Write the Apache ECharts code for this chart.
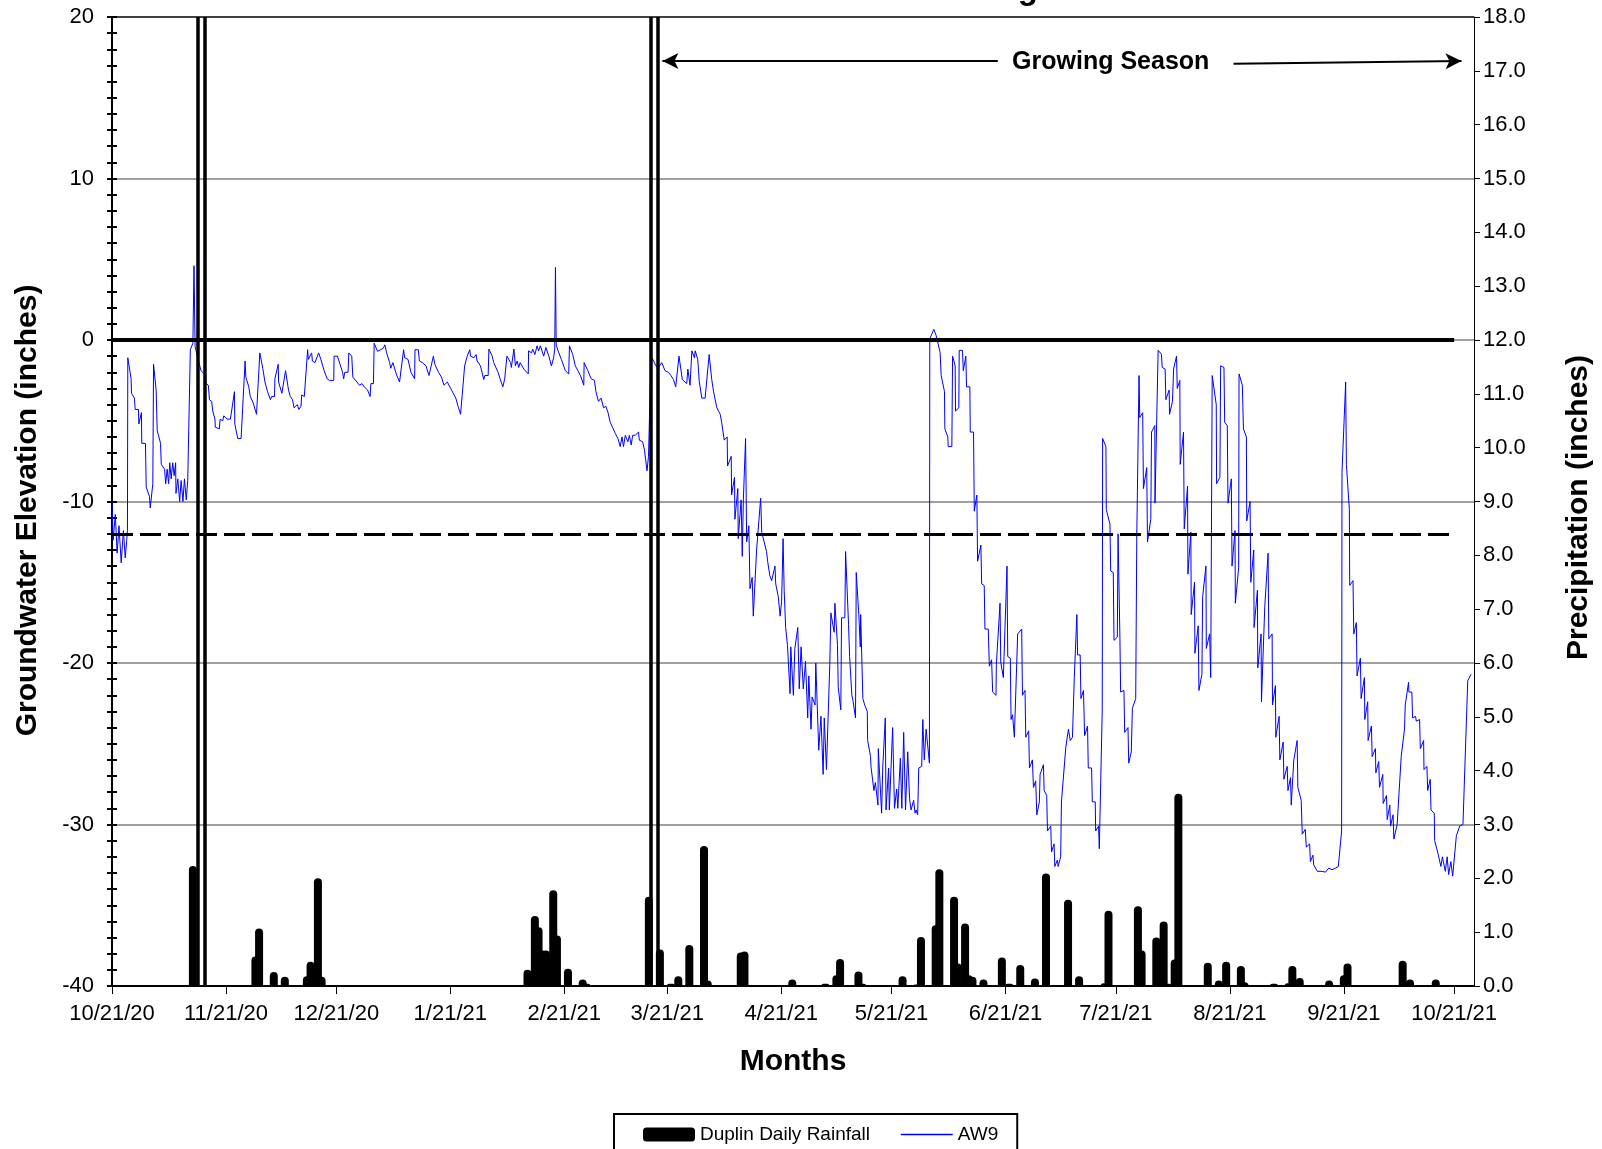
<!DOCTYPE html>
<html><head><meta charset="utf-8">
<script src="https://cdn.jsdelivr.net/npm/echarts@6/dist/echarts.min.js"></script>
<style>html,body{margin:0;padding:0;background:#fff}#chart{width:1602px;height:1149px}</style>
</head><body><div id="chart"></div>
<script>
// Day 0 = 10/21/20
const monthTickDays = [0,31,61,92,123,151,182,212,243,273,304,335,365];
const monthTickLabels = ['10/21/20','11/21/20','12/21/20','1/21/21','2/21/21','3/21/21','4/21/21','5/21/21','6/21/21','7/21/21','8/21/21','9/21/21','10/21/21'];

// AW9 readings: [day, groundwater elevation (in)]
const aw9Readings = [
[0,-10.0],[0.3,-12.4],[0.9,-10.8],[1.4,-13.2],[1.9,-11.5],[2.5,-13.8],[3.1,-11.8],[3.6,-13.5],[4.0,-12.4],[4.2,-11.8],[4.3,-1.1],
[5.2,-2.4],[5.3,-3.3],[6.1,-3.6],[6.3,-4.3],[7.2,-4.3],[7.3,-5.2],[8.0,-4.5],[8.1,-6.4],[9.1,-6.4],[9.3,-9.1],[10.2,-9.7],[10.4,-10.4],[11.1,-8.9],[11.3,-1.5],[12.0,-3.1],[12.3,-5.6],[13.2,-6.4],[13.4,-7.7],[14.3,-8.0],[14.6,-8.9],[15.0,-8.0],[15.4,-8.9],[15.7,-7.6],[16.1,-8.6],[16.5,-7.6],[16.9,-8.4],[17.3,-7.6],[17.4,-9.5],[17.9,-8.6],[18.4,-10.0],[18.8,-8.7],[19.3,-10.0],[19.7,-8.6],[20.2,-9.9],[20.6,-8.7],[21.1,-8.8],[21.3,-0.6],[22.0,-0.2],[22.3,4.6],[22.6,-0.4],[23.3,-1.1],[24.2,-1.9],[25.1,-2.1],[25.6,-2.7],[26.2,-2.8],[26.5,-3.7],[27.1,-3.8],[27.4,-4.4],[28.0,-4.9],[28.1,-5.4],[29.2,-5.5],[29.4,-4.9],[30.1,-5.0],[30.4,-4.7],[31.3,-4.9],[32.2,-4.9],[33.3,-3.2],[33.4,-5.2],[34.2,-6.1],[35.1,-6.1],[36.2,-1.3],[36.4,-2.3],[37.2,-2.9],[37.6,-3.5],[38.4,-3.9],[39.3,-4.6],[40.2,-0.8],[41.0,-1.75],[41.6,-2.6],[42.3,-3.2],[43.1,-3.7],[43.4,-3.5],[44.2,-3.5],[44.3,-2.4],[45.2,-1.5],[45.3,-2.6],[46.2,-3.3],[47.2,-1.9],[48.0,-3.1],[48.5,-3.5],[49.1,-3.7],[49.5,-4.2],[49.9,-4.1],[50.4,-4.0],[50.8,-4.3],[51.4,-4.1],[51.6,-3.4],[52.3,-3.5],[53.2,-0.6],[53.4,-1.2],[54.3,-0.8],[54.5,-1.3],[55.2,-1.4],[56.2,-0.8],[56.8,-1.2],[57.7,-1.9],[58.5,-2.4],[59.1,-2.5],[60.3,-2.5],[60.4,-1.0],[61.3,-1.0],[62.0,-1.5],[62.7,-2.0],[63.0,-2.4],[63.3,-2.0],[64.2,-2.0],[64.4,-0.8],[65.2,-1.0],[65.5,-2.3],[66.6,-2.6],[67.0,-2.5],[67.3,-2.8],[68.0,-2.7],[68.6,-2.9],[69.5,-3.1],[70.2,-3.5],[70.4,-2.7],[71.1,-2.7],[71.3,-0.2],[72.2,-0.7],[73.1,-0.6],[73.8,-0.5],[74.2,-0.3],[74.7,-0.8],[75.5,-1.4],[75.8,-1.75],[76.4,-1.4],[77.3,-2.1],[78.2,-2.6],[79.3,-0.6],[79.6,-1.1],[80.5,-1.2],[81.3,-2.0],[82.3,-2.4],[82.4,-0.6],[83.3,-0.6],[83.6,-1.3],[84.4,-1.4],[85.4,-1.6],[86.2,-2.2],[87.4,-1.0],[87.8,-1.5],[88.8,-2.0],[89.6,-2.3],[90.3,-2.8],[91.2,-2.6],[92.1,-3.0],[92.8,-3.3],[93.5,-3.6],[94.1,-4.1],[94.8,-4.6],[95.3,-4.7],[95.9,-1.6],[96.6,-1.0],[97.3,-0.6],
[97.5,-1.0],[98.4,-1.1],[99.0,-0.9],[99.3,-1.3],[100.2,-1.6],[101.1,-2.45],[101.4,-2.2],[102.3,-2.2],[102.5,-0.56],[103.4,-1.0],[103.8,-1.4],[105.0,-2.0],[105.6,-2.45],[106.3,-2.9],[106.8,-2.4],[107.3,-2.4],[107.4,-1.0],[108.4,-1.4],[108.6,-1.7],[109.3,-0.56],[109.7,-1.6],[110.2,-1.3],[110.6,-1.7],[111.0,-1.4],[112.0,-1.8],[113.2,-2.1],[113.3,-0.67],[114.1,-0.8],[114.4,-0.56],[115.0,-0.9],[115.6,-0.36],[116.0,-0.67],[116.5,-0.36],[117.4,-1.0],[118.0,-0.46],[118.8,-1.0],[119.5,-1.6],[120.1,-1.1],[120.4,-0.56],[120.6,4.5],[120.8,-0.3],[121.3,-0.67],[122.2,-1.2],[123.3,-1.9],[124.2,-2.1],[124.4,-0.36],[125.3,-0.9],[126.0,-1.6],[126.7,-1.9],[127.4,-2.2],[128.3,-2.8],[128.4,-1.4],[129.4,-1.9],[130.3,-2.4],[131.2,-2.5],[131.6,-3.2],[132.3,-3.8],[133.0,-3.6],[133.7,-4.2],[134.3,-4.1],[134.9,-4.5],[135.5,-5.1],[136.1,-5.4],[136.9,-5.8],[137.6,-6.1],[138.2,-6.6],[138.7,-6.0],[139.1,-6.6],[139.6,-5.9],[140.3,-6.3],[140.7,-5.9],[141.2,-6.5],[141.6,-5.9],[142.3,-5.9],[142.7,-5.8],[143.2,-5.7],[143.4,-6.2],[144.3,-6.3],[144.8,-6.8],[145.5,-8.1],[145.9,-7.2],[146.6,-1.0],[147.3,-1.3],[147.9,-1.6],[148.6,-1.7],[149.1,-1.8],[149.5,-1.4],[150.4,-1.9],[151.3,-2.0],[152.0,-2.2],[152.7,-2.45],[153.3,-2.9],[154.2,-1.0],[155.1,-2.45],[156.3,-2.7],[156.6,-1.8],[157.2,-2.8],[157.7,-0.67],[158.4,-1.1],[158.6,-0.67],[159.3,-1.2],[159.7,-2.55],[160.4,-3.6],[161.3,-3.6],[162.4,-0.9],[163.1,-2.45],[163.6,-3.2],[164.5,-4.2],[165.4,-4.6],[165.8,-5.1],[166.3,-5.2],[166.5,-6.2],[167.3,-6.0],[167.4,-7.8],[168.4,-7.2],[168.5,-9.6],[169.3,-8.5],[169.4,-11.1],[170.2,-9.2],[170.3,-12.3],[171.1,-9.9],[171.4,-13.4],[171.7,-9.9],[172.3,-6.1],[172.6,-12.5],[173.2,-11.5],[173.5,-15.4],[174.1,-14.7],[174.4,-17.1],[175.3,-13.0],[176.4,-9.8],[176.7,-11.9],[178.0,-13.1],[178.3,-13.7],[178.9,-14.6],[179.4,-14.9],[180.3,-14.0],[180.5,-15.1],[181.2,-15.9],[181.7,-17.1],[182.1,-16.2],[182.5,-12.3],[182.8,-15.5],[183.2,-17.8],[183.7,-18.9],[184.4,-21.9],[184.6,-19.0],[185.3,-22.0],[185.7,-19.1],[186.5,-17.8],[186.9,-21.6],[187.4,-19.0],[188.0,-21.6],[188.6,-19.9],[189.2,-23.4],[189.5,-20.8],[190.1,-24.1],[190.4,-22.1],[191.2,-22.6],[191.4,-20.0],[192.2,-25.4],[192.8,-23.3],[193.4,-26.9],[193.7,-23.4],[194.3,-26.6],[195.2,-20.1],[195.5,-16.9],[196.4,-18.1],[196.6,-16.3],[197.3,-18.9],[197.5,-21.5],[198.2,-22.9],[198.4,-17.2],[199.3,-17.2],[199.5,-13.1],
[200.3,-17.6],[200.6,-19.6],[201.2,-22.0],[201.5,-22.3],[202.2,-23.4],[202.4,-14.4],[203.1,-17.0],[203.5,-19.0],[203.6,-17.0],[204.2,-22.2],[204.7,-22.6],[205.4,-23.0],[205.5,-24.8],[206.3,-25.8],[206.4,-26.4],[207.2,-27.9],[207.6,-27.4],[208.3,-28.8],[208.4,-25.3],[209.3,-29.3],[209.6,-26.5],[210.3,-23.4],[210.5,-29.1],[211.2,-26.5],[211.4,-29.1],[212.3,-24.0],[212.8,-29.0],[213.4,-27.8],[213.7,-29.0],[214.4,-25.9],[214.8,-29.0],[215.3,-24.3],[215.8,-29.1],[216.4,-25.5],[216.9,-28.4],[217.3,-29.1],[218.0,-28.5],[218.4,-29.3],[218.7,-29.1],[219.1,-29.4],[219.4,-26.5],[220.2,-26.4],[220.5,-23.5],[220.9,-26.0],[221.4,-24.1],[222.3,-26.2],[222.4,0.07],[223.5,0.66],[224.1,0.3],[225.2,-0.76],[225.5,-2.2],[226.4,-3.2],[226.5,-5.5],[227.3,-6.0],[227.4,-6.6],[228.4,-6.6],[228.6,-1.0],[229.3,-1.6],[229.4,-4.4],[230.3,-4.2],[230.4,-0.64],[231.3,-0.64],[231.5,-1.9],[232.2,-1.0],[232.4,-2.9],[233.3,-2.9],[233.4,-5.7],[234.3,-5.7],[234.5,-10.6],[235.2,-9.6],[235.4,-13.7],[236.3,-12.7],[236.5,-15.1],[237.2,-15.2],[237.4,-17.9],[238.3,-17.9],[238.6,-20.2],[239.2,-19.8],[239.5,-21.8],[240.4,-22.0],[240.5,-20.1],[241.5,-16.3],[241.7,-19.95],[242.4,-20.9],[242.6,-19.6],[243.4,-14.0],[243.6,-19.6],[244.3,-19.7],[244.5,-23.5],[244.9,-23.2],[245.4,-24.6],[246.3,-18.2],[247.4,-17.9],[247.6,-22.0],[248.3,-21.7],[248.5,-24.6],[249.3,-24.2],[249.5,-26.5],[250.3,-26.0],[250.6,-27.7],[251.2,-27.3],[251.5,-29.4],[252.2,-28.6],[252.4,-26.9],[253.3,-26.3],[253.5,-27.9],[254.2,-28.2],[254.4,-30.4],[255.3,-30.1],[255.5,-31.7],[256.2,-31.2],[256.4,-32.6],[257.1,-32.2],[257.3,-32.6],[258.0,-32.0],[258.2,-28.6],[259.4,-25.2],[260.1,-24.1],[260.6,-24.8],[261.2,-24.6],[261.7,-20.9],[262.4,-17.0],[262.6,-19.5],[263.3,-19.5],[263.5,-22.2],[264.2,-21.7],[264.5,-24.5],[265.3,-23.9],[265.5,-26.5],[266.4,-26.5],[266.6,-28.6],[267.4,-28.6],[267.5,-30.4],[268.3,-30.1],[268.5,-31.5],[269.3,-22.9],[269.4,-6.1],[270.3,-6.6],[270.4,-10.5],[271.4,-11.4],[271.6,-14.3],[272.3,-14.4],[272.5,-18.6],[273.4,-18.4],[273.6,-12.0],[274.1,-18.4],[274.3,-21.8],[275.2,-21.7],[275.4,-24.3],[276.3,-24.0],[276.5,-26.2],[277.2,-25.5],[277.5,-22.8],[278.4,-22.2],[278.7,-12.0],[279.3,-2.2],[279.5,-4.8],[280.3,-4.5],[280.5,-9.2],[281.4,-7.9],[281.6,-12.5],
[282.5,-11.1],[282.7,-5.7],[283.6,-5.3],[283.65,-10.1],[284.5,-0.64],[285.4,-0.88],[285.6,-1.7],[286.4,-1.8],[286.6,-3.7],[287.5,-3.1],[287.6,-4.6],[288.4,-3.8],[288.7,-1.8],[289.5,-1.0],[289.7,-3.0],[290.4,-2.5],[290.5,-7.7],[291.4,-5.7],[291.6,-11.7],[292.5,-9.05],[292.6,-14.5],[293.4,-11.9],[293.5,-17.0],[294.4,-15.0],[294.5,-19.4],[295.4,-17.7],[295.6,-21.7],[296.4,-20.7],[296.6,-15.9],[297.5,-14.0],[297.6,-19.1],[298.5,-18.2],[298.8,-20.9],[299.2,-2.2],[300.3,-4.0],[300.4,-8.9],[301.3,-8.5],[301.5,-1.6],[302.4,-1.7],[302.6,-5.1],[303.3,-5.3],[303.5,-10.1],[304.4,-8.6],[304.6,-14.0],[305.4,-11.8],[305.5,-16.3],[306.4,-14.1],[306.5,-2.1],[307.4,-2.8],[307.7,-5.5],[308.5,-6.0],[308.6,-11.2],[309.5,-10.0],[309.7,-15.0],[310.5,-13.0],[310.6,-17.8],[311.5,-15.5],[311.6,-20.3],[312.5,-18.2],[312.6,-22.4],[313.5,-16.5],[314.4,-13.2],[314.6,-18.5],[315.5,-18.2],[315.6,-22.6],[316.4,-21.4],[316.5,-24.6],[317.4,-23.3],[317.6,-26.0],[318.5,-24.9],[318.7,-27.2],[319.6,-26.4],[319.8,-27.9],[320.5,-27.1],[320.7,-28.8],[321.4,-26.0],[322.3,-24.8],[322.5,-27.7],[323.4,-28.5],[323.7,-30.6],[324.5,-30.3],[324.8,-31.4],[325.7,-31.2],[325.9,-32.3],[326.6,-31.9],[326.8,-32.5],[327.8,-32.9],[328.3,-32.8],[329.1,-32.9],[330.0,-32.95],[330.9,-32.7],[331.8,-32.8],[332.7,-32.7],[333.5,-32.6],[334.4,-30.4],[334.5,-8.2],[335.5,-2.6],[335.7,-7.7],[336.5,-10.5],[336.6,-15.2],[337.5,-14.9],[337.7,-18.2],[338.4,-17.5],[338.6,-20.8],[339.5,-19.7],[339.7,-22.2],[340.6,-20.9],[340.7,-23.5],[341.5,-22.4],[341.6,-24.8],[342.5,-23.9],[342.7,-25.8],[343.6,-25.3],[343.7,-26.8],[344.5,-26.1],[344.7,-27.7],[345.6,-26.9],[345.7,-28.7],[346.6,-28.2],[346.8,-29.7],[347.5,-28.8],[347.7,-30.1],[348.4,-29.4],[348.6,-30.9],[349.5,-30.0],[350.6,-25.8],[351.5,-24.1],[351.7,-22.6],[352.6,-21.2],[352.7,-21.8],[353.5,-21.8],[353.7,-23.4],[354.5,-23.3],[354.7,-23.6],[355.6,-23.5],[355.8,-25.3],[356.7,-24.8],[356.8,-26.6],[357.6,-26.4],[357.8,-27.9],[358.5,-27.2],[358.7,-29.1],[359.6,-29.3],[359.7,-31.0],[360.5,-31.7],[361.4,-32.6],[361.8,-32.0],[362.6,-32.9],[363.1,-32.0],[363.5,-33.1],[364.1,-32.3],[364.6,-33.2],[365.6,-30.7],[366.5,-30.1],[367.4,-30.0],[368.7,-21.1],[369.6,-20.7]
];

// Duplin daily rainfall: [day, inches]
const rainfall = [
[22,2.23],[39,0.55],[40,1.07],[44,0.26],[47,0.17],[53,0.18],[54,0.45],[56,2.0],[57,0.17],
[113,0.3],[115,1.3],[116,1.09],[117,0.66],[118,0.66],[119,0.5],[120,1.78],[121,0.94],[124,0.32],[128,0.12],[129,0.04],
[146,1.66],[149,0.68],[152,0.04],[154,0.18],[157,0.76],[161,2.6],[162,0.1],
[171,0.62],[172,0.64],[185,0.12],[194,0.04],[197,0.2],[198,0.5],[203,0.27],[204,0.04],[215,0.18],[219,0.03],[220,0.91],
[224,1.13],[225,2.17],[229,1.66],[230,0.42],[232,1.16],[233,0.2],[234,0.17],[237,0.12],[242,0.53],[244,0.04],[247,0.39],[251,0.14],
[254,2.09],[260,1.6],[263,0.18],[270,0.05],[271,1.4],[279,1.48],[280,0.66],[284,0.9],[286,1.2],[287,0.04],[289,0.49],[290,3.57],
[298,0.43],[301,0.1],[303,0.45],[307,0.37],[308,0.07],[316,0.04],[320,0.05],[321,0.37],[323,0.15],[331,0.1],[335,0.2],[336,0.42],
[351,0.47],[353,0.12],[360,0.12]
];

const eventLineDays = [23.2, 25.1, 146.4, 148.3];
const surfaceLevel = 0;
const criterionLevel = -12;
const referenceEndDay = 365;
const growingSeasonLeft = [[149.7, 17.28], [240.9, 17.28]];
const growingSeasonRight = [[305.0, 17.1], [367.0, 17.28]];
const growingSeasonText = {day: 271.6, level: 17.2, text: 'Growing Season'};

const FONT = "'Liberation Sans', Arial, sans-serif";
const chart = echarts.init(document.getElementById('chart'), null, {renderer: 'canvas'});

const blackLine = (w, type) => ({color: '#000', width: w, type: type || 'solid'});

const option = {
  animation: false,
  backgroundColor: '#fff',
  textStyle: {fontFamily: FONT},
  graphic: [{
    type: 'text', x: 805, y: -10, silent: true,
    style: {text: 'AW9 Groundwater Monitoring', font: "bold 33px 'Liberation Sans', Arial", fill: '#000', textAlign: 'center', textVerticalAlign: 'middle'}
  }],
  grid: {left: 112, right: 125, top: 17, bottom: 163, containLabel: false},
  legend: {
    left: 614, top: 1114, orient: 'horizontal',
    itemWidth: 52, itemHeight: 14, itemGap: 30,
    padding: [11, 19, 30, 29],
    borderColor: '#000', borderWidth: 2,
    textStyle: {fontSize: 19, color: '#000', fontFamily: FONT},
    data: [
      {name: 'Duplin Daily Rainfall', icon: 'roundRect'},
      {name: 'AW9', itemStyle: {opacity: 0, borderWidth: 0}, lineStyle: {color: '#0000FF', width: 1.5}}
    ]
  },
  xAxis: [{
    type: 'value', min: 0, max: 370.4,
    name: 'Months', nameLocation: 'middle', nameGap: 61,
    nameTextStyle: {fontSize: 30, fontWeight: 'bold', color: '#000', fontFamily: FONT},
    axisLine: {show: true, onZero: false, lineStyle: {color: '#000', width: 2}},
    axisTick: {show: true, customValues: monthTickDays, length: 8, lineStyle: {color: '#000', width: 1}},
    axisLabel: {show: true, customValues: monthTickDays, fontSize: 22, color: '#000', margin: 17, fontFamily: FONT,
      formatter: v => { const i = monthTickDays.indexOf(Math.round(v)); return i >= 0 ? monthTickLabels[i] : ''; }},
    splitLine: {show: false}
  }],
  yAxis: [{
    type: 'value', position: 'left', min: -40, max: 20, interval: 10,
    name: 'Groundwater Elevation (inches)', nameLocation: 'middle', nameRotate: 90, nameGap: 69,
    nameTextStyle: {fontSize: 30, fontWeight: 'bold', color: '#000', fontFamily: FONT, padding: [0, 18, 0, 0]},
    axisLine: {show: true, onZero: false, lineStyle: {color: '#000', width: 2}},
    axisTick: {show: true, inside: false, length: 5, lineStyle: {color: '#000', width: 2}},
    minorTick: {show: true, splitNumber: 10, length: 5, lineStyle: {color: '#000', width: 2}},
    axisLabel: {fontSize: 22, color: '#000', margin: 18, fontFamily: FONT},
    splitLine: {show: true, lineStyle: {color: ['#000', '#808080', '#808080', '#808080', '#808080', '#808080', '#000'], width: 1.5}}
  }, {
    type: 'value', position: 'right', min: 0, max: 18, interval: 1,
    name: 'Precipitation (inches)', nameLocation: 'middle', nameRotate: 90, nameGap: 90,
    nameTextStyle: {fontSize: 30, fontWeight: 'bold', color: '#000', fontFamily: FONT, padding: [0, 12, 0, 0]},
    axisLine: {show: true, onZero: false, lineStyle: {color: '#000', width: 1}},
    axisTick: {show: true, length: 6, lineStyle: {color: '#000', width: 1}},
    axisLabel: {fontSize: 22, color: '#000', margin: 9, fontFamily: FONT, formatter: v => v.toFixed(1)},
    splitLine: {show: false}
  }, {
    type: 'value', position: 'left', min: -40, max: 20, interval: 10,
    axisLine: {show: false, onZero: false},
    axisTick: {show: true, inside: true, length: 5, lineStyle: {color: '#000', width: 2}},
    minorTick: {show: true, splitNumber: 10, length: 5, lineStyle: {color: '#000', width: 2}},
    axisLabel: {show: false},
    splitLine: {show: false}
  }],
  series: [{
    name: 'Duplin Daily Rainfall', type: 'bar', xAxisIndex: 0, yAxisIndex: 1,
    barWidth: 8, data: rainfall,
    itemStyle: {color: '#000', borderRadius: [4, 4, 0, 0]}, z: 2
  }, {
    name: 'AW9', type: 'line', xAxisIndex: 0, yAxisIndex: 0,
    data: aw9Readings, symbol: 'none', showSymbol: false,
    lineStyle: {color: '#0000FF', width: 1}, itemStyle: {color: '#0000FF'}, z: 3,
    markLine: {
      silent: true, symbol: 'none', label: {show: false}, animation: false,
      data: [
        [{coord: [0, surfaceLevel], lineStyle: blackLine(4)}, {coord: [referenceEndDay, surfaceLevel], lineStyle: blackLine(4)}],
        [{coord: [0, criterionLevel], lineStyle: blackLine(3, [21, 7])}, {coord: [referenceEndDay, criterionLevel], lineStyle: blackLine(3, [21, 7])}],
        ...eventLineDays.map(d => ({xAxis: d, lineStyle: blackLine(3.5)})),
        [{coord: growingSeasonLeft[0], symbol: 'arrow', symbolSize: [12, 16], lineStyle: blackLine(2)},
         {coord: growingSeasonLeft[1], symbol: 'none', lineStyle: blackLine(2)}],
        [{coord: growingSeasonRight[0], symbol: 'none', lineStyle: blackLine(2)},
         {coord: growingSeasonRight[1], symbol: 'arrow', symbolSize: [12, 16], lineStyle: blackLine(2)}]
      ]
    },
    markPoint: {
      silent: true, symbol: 'circle', symbolSize: 0, animation: false,
      label: {show: true, position: 'inside', formatter: '{b}', fontSize: 25, fontWeight: 'bold', color: '#000', fontFamily: FONT},
      data: [{name: growingSeasonText.text, coord: [growingSeasonText.day, growingSeasonText.level]}]
    }
  }]
};
chart.setOption(option);
</script>
</body></html>
